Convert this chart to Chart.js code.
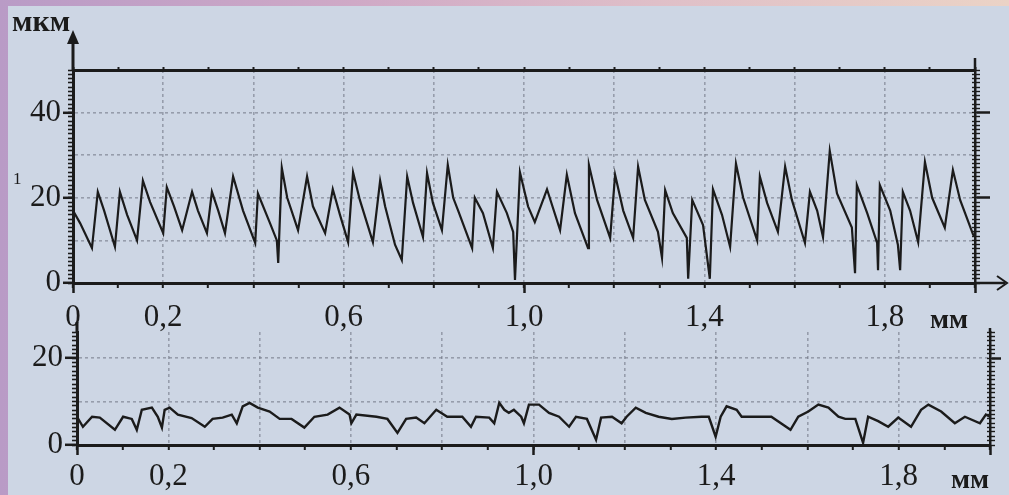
<!DOCTYPE html>
<html>
<head>
<meta charset="utf-8">
<script src="https://cdn.jsdelivr.net/npm/chart.js@4.4.0/dist/chart.umd.min.js"></script>
<style>
  html, body { margin: 0; padding: 0; }
  body {
    width: 1009px; height: 495px; overflow: hidden; position: relative;
    background: linear-gradient(to right, #b99bc6 0%, #cfa9c6 35%, #dfbfc8 65%, #ebd3c6 100%);
  }
  #panel { position: absolute; left: 8px; top: 6px; right: 0; bottom: 0; background: #cdd6e4; }
  canvas { position: absolute; left: 0; top: 0; }
</style>
</head>
<body>
<div id="panel"></div>
<canvas id="topChart" width="1009" height="495"></canvas>
<canvas id="botChart" width="1009" height="495"></canvas>
<script>
/* ========= 1.  DATA  ================================================= */
// upper profile: x in mm, height in µm
const topX = [0, 0.016, 0.042, 0.055, 0.069, 0.093, 0.104, 0.120, 0.142, 0.155,
  0.171, 0.200, 0.208, 0.224, 0.242, 0.264, 0.277, 0.297, 0.308, 0.322,
  0.337, 0.355, 0.377, 0.404, 0.410, 0.437, 0.452, 0.455, 0.463, 0.475,
  0.499, 0.519, 0.532, 0.559, 0.576, 0.592, 0.610, 0.621, 0.636, 0.665,
  0.681, 0.692, 0.714, 0.729, 0.741, 0.754, 0.776, 0.785, 0.798, 0.818,
  0.831, 0.843, 0.854, 0.885, 0.891, 0.909, 0.931, 0.940, 0.962, 0.976,
  0.980, 0.991, 1.009, 1.024, 1.051, 1.080, 1.095, 1.113, 1.142, 1.144,
  1.162, 1.191, 1.202, 1.220, 1.242, 1.253, 1.268, 1.297, 1.306, 1.313,
  1.330, 1.361, 1.364, 1.373, 1.397, 1.412, 1.419, 1.439, 1.457, 1.470,
  1.486, 1.517, 1.523, 1.539, 1.563, 1.579, 1.594, 1.623, 1.634, 1.650,
  1.663, 1.678, 1.694, 1.727, 1.734, 1.738, 1.761, 1.783, 1.785, 1.789,
  1.812, 1.829, 1.834, 1.840, 1.856, 1.874, 1.889, 1.905, 1.933, 1.951,
  1.967, 1.996, 2.0];
const topY = [17, 14, 8.2, 21.4, 17, 8.5, 21.4, 16, 10, 24,
  19, 11.7, 22.5, 18, 12.4, 21.4, 17, 11.7, 21.4, 17,
  11.7, 25, 17, 9.4, 21, 14, 10, 4.7, 27, 20,
  12.4, 25, 18, 11.7, 22, 16, 9.6, 26, 19.5, 9.6,
  24, 18, 9, 5.4, 25, 18.8, 10.8, 25.8, 18.8, 12.4,
  27.7, 20, 17, 8.2, 20, 16.4, 8.2, 21.4, 16.4, 12,
  0.7, 26, 18, 14.3, 22, 12.4, 25.4, 16.4, 8.2, 27.7,
  19.5, 10.6, 25.4, 17, 10.6, 27.3, 19.5, 12, 5.9, 21.8,
  16.4, 10.6, 1, 19.5, 13.6, 1, 22, 16, 8.5, 28,
  20, 10, 25, 18.8, 12, 27.3, 19.5, 9.4, 21.4, 17,
  10.8, 31, 21, 13, 2.3, 23, 16.4, 9.4, 3, 23,
  17, 9, 3, 21.4, 17, 9.6, 28.4, 20, 13, 26.5,
  19.5, 11.3, 11];

// lower profile
const botX = [0, 0.013, 0.033, 0.050, 0.083, 0.101, 0.120, 0.131, 0.142, 0.164,
  0.177, 0.186, 0.192, 0.203, 0.221, 0.251, 0.280, 0.297, 0.319, 0.339,
  0.350, 0.363, 0.378, 0.396, 0.422, 0.444, 0.470, 0.498, 0.520, 0.549,
  0.575, 0.597, 0.601, 0.612, 0.656, 0.680, 0.702, 0.721, 0.743, 0.761,
  0.787, 0.811, 0.844, 0.863, 0.874, 0.903, 0.914, 0.925, 0.936, 0.946,
  0.957, 0.973, 0.979, 0.990, 1.012, 1.034, 1.056, 1.078, 1.093, 1.117,
  1.137, 1.148, 1.172, 1.193, 1.204, 1.224, 1.246, 1.274, 1.303, 1.333,
  1.368, 1.384, 1.399, 1.410, 1.423, 1.445, 1.456, 1.493, 1.521, 1.563,
  1.580, 1.602, 1.624, 1.646, 1.668, 1.683, 1.705, 1.722, 1.733, 1.755,
  1.777, 1.799, 1.827, 1.849, 1.865, 1.893, 1.923, 1.945, 1.978, 1.991, 2.0];
const botY = [6.5, 4.2, 6.5, 6.3, 3.5, 6.5, 6, 3.5, 8.1, 8.6,
  6.5, 4, 8.1, 8.6, 7, 6.2, 4.2, 6, 6.3, 7,
  5, 8.9, 9.7, 8.6, 7.7, 6, 6, 4, 6.5, 7,
  8.6, 7, 5, 7, 6.5, 6, 2.8, 6, 6.3, 5,
  8.1, 6.5, 6.5, 4.2, 6.5, 6.3, 5, 9.7, 8.1, 7.4,
  8.1, 6.5, 5, 9.3, 9.3, 7.4, 6.5, 4.2, 6.5, 6,
  1.2, 6.3, 6.5, 5, 6.5, 8.6, 7.4, 6.5, 6, 6.3,
  6.5, 6.5, 1.9, 6.5, 8.9, 8.1, 6.5, 6.5, 6.5, 3.5,
  6.5, 7.7, 9.3, 8.6, 6.5, 6, 6, 0.5, 6.5, 5.5,
  4.2, 6.3, 4.2, 8.1, 9.3, 7.7, 5, 6.5, 5, 7, 6.5];

// tick labels
const xTickVals   = [0, 0.2, 0.6, 1.0, 1.4, 1.8];
const xTickLabels = ['0', '0,2', '0,6', '1,0', '1,4', '1,8'];
const topYTicks   = [0, 20, 40];
const botYTicks   = [0, 20];

/* ========= 2.  STYLE HELPERS  ======================================== */
const INK  = '#1b1b1b';
const GRID = 'rgba(105,112,124,0.55)';
const FONT = '"Liberation Serif", "Times New Roman", serif';
Chart.defaults.font.family = FONT;
Chart.defaults.color = INK;

const near = (a, b) => Math.abs(a - b) < 1e-6;
const isMult = (v, step) => near(v / step, Math.round(v / step));
const xLabel = v => { const i = xTickVals.findIndex(t => near(t, v)); return i < 0 ? '' : xTickLabels[i]; };

function line (ctx, x1, y1, x2, y2) {
  ctx.beginPath(); ctx.moveTo(x1, y1); ctx.lineTo(x2, y2); ctx.stroke();
}
function arrowUp (ctx, x, y) {       // tip at (x, y)
  ctx.beginPath(); ctx.moveTo(x, y); ctx.lineTo(x - 6, y + 14); ctx.lineTo(x + 6, y + 14); ctx.closePath(); ctx.fill();
}
function arrowRight (ctx, x, y) {
  ctx.beginPath(); ctx.moveTo(x - 10, y - 7); ctx.lineTo(x, y); ctx.lineTo(x - 10, y + 7); ctx.stroke();
}

/* shared axis builders */
function xAxes (labelPad, height) {
  return {
    x: {
      type: 'linear', position: 'bottom', min: 0, max: 2,
      ticks: { stepSize: 0.1, maxTicksLimit: 100, autoSkip: false, maxRotation: 0, includeBounds: false,
               padding: labelPad, font: { size: 31 }, color: INK, callback: xLabel },
      grid: { color: c => (isMult(c.tick.value, 0.2) && c.tick.value > 0.01 && c.tick.value < 1.99) ? GRID : 'transparent',
              lineWidth: 1.6, tickLength: 5, tickWidth: 2, tickColor: INK },
      border: { color: INK, width: 3, dash: [3, 3] },
      afterFit: s => { s.height = height; }
    },
    xMajor: {
      type: 'linear', position: { y: 0 }, min: 0, max: 2,
      ticks: { stepSize: 1, display: false, includeBounds: false },
      grid: { drawOnChartArea: false, tickLength: 10, tickWidth: 2.5, tickColor: INK },
      border: { display: false }
    }
  };
}
function yAxes (max, labelVals, tickLen, width, rightWidth, rightTick) {
  return {
    y: {
      position: 'left', min: 0, max,
      ticks: { stepSize: 10, autoSkip: false, includeBounds: false, padding: 2, font: { size: 31 }, color: INK,
               callback: v => labelVals.includes(v) ? String(v) : '' },
      grid: { color: c => (c.tick.value > 0 && c.tick.value < 50 && isMult(c.tick.value, 10)) ? GRID : 'transparent',
              lineWidth: 1.6, tickLength: tickLen, tickColor: INK,
              tickWidth: c => labelVals.includes(c.tick.value) ? 2.5 : 0 },
      border: { color: INK, width: 3, dash: [3, 3] },
      afterFit: s => { s.width = width; }
    },
    yMinor: {
      position: { x: 0 }, min: 0, max,
      ticks: { stepSize: 1, maxTicksLimit: 1000, includeBounds: false, display: false },
      grid: { drawOnChartArea: false, tickLength: 5, tickWidth: 1.6, tickColor: INK },
      border: { display: false }
    },
    yRight: {
      position: 'right', min: 0, max,
      ticks: { stepSize: 20, includeBounds: false, display: false },
      grid: { drawOnChartArea: false, tickLength: rightTick, tickColor: INK,
              tickWidth: c => (c.tick.value > 0 && isMult(c.tick.value, 20)) ? 2.5 : 0 },
      border: { color: INK, width: 2.5 },
      afterFit: s => { s.width = rightWidth; }
    },
    yRightMinor: {
      position: { x: 2.01 }, min: 0, max,
      ticks: { stepSize: 1, maxTicksLimit: 1000, includeBounds: false, display: false },
      grid: { drawOnChartArea: false, tickLength: 8, tickWidth: 1.4, tickColor: INK },
      border: { display: false }
    }
  };
}

/* ========= 3.  EXTRA DECORATION  ===================================== */
const topExtras = {
  id: 'topExtras',
  afterDraw (chart) {
    const { ctx, chartArea: a } = chart;
    ctx.save();
    ctx.strokeStyle = INK; ctx.fillStyle = INK;
    ctx.lineWidth = 3;
    line(ctx, a.left, a.top, a.left, a.top - 28);       // y axis up to arrow
    arrowUp(ctx, a.left, a.top - 40);
    ctx.lineWidth = 2.5;
    line(ctx, a.right, a.top, a.right, a.top - 12);     // right border pokes up
    line(ctx, a.right, a.bottom, a.right + 30, a.bottom);
    ctx.lineWidth = 2;
    arrowRight(ctx, a.right + 32, a.bottom);
    ctx.font = 'bold 30px ' + FONT;
    ctx.fillText('мкм', 12, 31);
    ctx.font = 'bold 28px ' + FONT;
    ctx.fillText('мм', 930, 328);
    ctx.font = '17px ' + FONT;
    ctx.fillText('1', 13, 184);
    ctx.restore();
  }
};
const botExtras = {
  id: 'botExtras',
  afterDraw (chart) {
    const { ctx, chartArea: a } = chart;
    ctx.save();
    ctx.strokeStyle = INK; ctx.fillStyle = INK;
    ctx.lineWidth = 3;
    line(ctx, a.left, a.top, a.left, a.top - 10);
    ctx.lineWidth = 2.5;
    line(ctx, a.right, a.top, a.right, a.top - 4);
    ctx.font = 'bold 28px ' + FONT;
    ctx.fillText('мм', 951, 488);
    ctx.restore();
  }
};

/* ========= 4.  CHARTS  =============================================== */
const baseOpts = {
  responsive: false,
  animation: false,
  plugins: { legend: { display: false }, tooltip: { enabled: false } },
  elements: { point: { radius: 0 }, line: { tension: 0 } }
};

new Chart(document.getElementById('topChart'), {
  type: 'line',
  data: {
    datasets: [{
      data: topX.map((x, i) => ({ x, y: topY[i] })),
      borderColor: INK, borderWidth: 2.2
    }]
  },
  options: {
    ...baseOpts,
    layout: { autoPadding: false, padding: 0 },
    scales: {
      ...xAxes(11, 212),
      xTop: {
        type: 'linear', position: 'top', min: 0, max: 2,
        ticks: { stepSize: 0.1, maxTicksLimit: 100, includeBounds: false, display: false },
        grid: { drawOnChartArea: false, tickLength: 3, tickWidth: 2, tickColor: INK },
        border: { color: INK, width: 3 },
        afterFit: s => { s.height = 70; }
      },
      ...yAxes(50, topYTicks, 10, 73, 34, 15)
    }
  },
  plugins: [topExtras]
});

new Chart(document.getElementById('botChart'), {
  type: 'line',
  data: {
    datasets: [{
      data: botX.map((x, i) => ({ x, y: botY[i] })),
      borderColor: INK, borderWidth: 2.4
    }]
  },
  options: {
    ...baseOpts,
    layout: { autoPadding: false, padding: { top: 332, left: 0, right: 0, bottom: 0 } },
    scales: {
      ...xAxes(8, 50),
      ...yAxes(26, botYTicks, 12, 77, 19, 11)
    }
  },
  plugins: [botExtras]
});
</script>
</body>
</html>
